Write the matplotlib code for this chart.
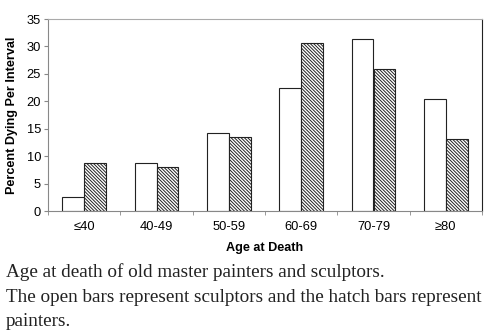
import matplotlib
matplotlib.use('Agg')
import matplotlib.pyplot as plt
import numpy as np

ages = ['≤40', '40-49', '50-59', '60-69', '70-79', '≥80']
sculptors = [2.6, 8.8, 14.3, 22.4, 31.3, 20.4]
painters = [8.7, 8.0, 13.5, 30.6, 25.9, 13.1]

plt.rcParams['hatch.linewidth'] = 0.7
plt.rcParams['hatch.color'] = '#222222'

fig = plt.figure(figsize=(4.9, 3.36), dpi=100)
ax = fig.add_axes([48/490, 1-211/336, (482-48)/490, (211-19)/336])

x = np.arange(len(ages))
w = 0.3
ax.bar(x - w/2, sculptors, w, facecolor='white', edgecolor='#222222', lw=0.8)
ax.bar(x + w/2, painters, w, facecolor='white', edgecolor='#222222', lw=0.8,
       hatch='\\' * 10)

ax.set_xlim(-0.5, len(ages) - 0.5)
ax.set_ylim(0, 35)
ax.set_yticks(range(0, 36, 5))
ax.set_xticks(x)
ax.set_xticklabels(ages)
ax.set_xticks(np.arange(-0.5, len(ages)), minor=True)
ax.tick_params(axis='x', which='major', length=0, pad=7)
ax.tick_params(axis='x', which='minor', length=3, color='#888888')
ax.tick_params(axis='y', length=3, color='#888888', pad=2)
for lab in ax.get_xticklabels() + ax.get_yticklabels():
    lab.set_fontfamily('Liberation Sans')
    lab.set_fontsize(9.3)

ax.spines['left'].set_color('#888888')
ax.spines['bottom'].set_color('#888888')
ax.spines['top'].set_color('#aaaaaa')
ax.spines['right'].set_color('#222222')

ax.set_ylabel('Percent Dying Per Interval', fontfamily='Liberation Sans',
              fontweight='bold', fontsize=9.1, labelpad=6)
ax.set_xlabel('Age at Death', fontfamily='Liberation Sans',
              fontweight='bold', fontsize=9.1, labelpad=7)

caption = ['Age at death of old master painters and sculptors.',
           'The open bars represent sculptors and the hatch bars represent',
           'painters.']
for i, line in enumerate(caption):
    fig.text(6/490, 1 - (272 + 25*i)/336, line, fontfamily='Liberation Serif',
             fontsize=13.8, color='#222222', va='center', ha='left')

fig.savefig('out.png', dpi=100)
